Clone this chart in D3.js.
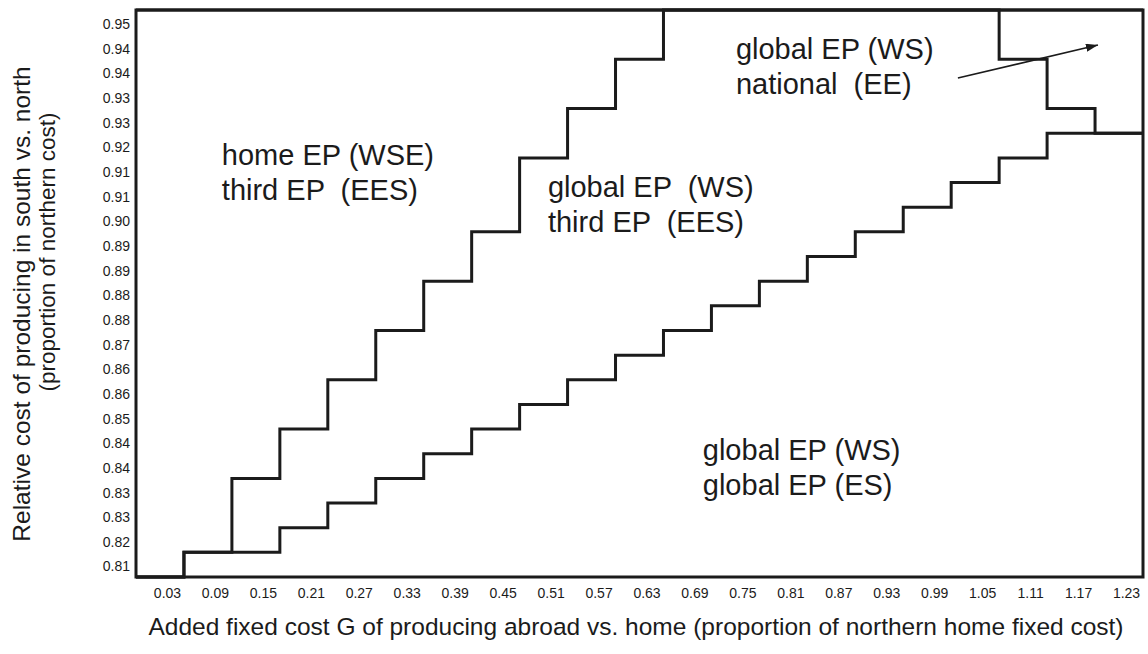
<!DOCTYPE html>
<html>
<head>
<meta charset="utf-8">
<script src="https://cdn.jsdelivr.net/npm/d3@7"></script>
<style>
  html, body { margin: 0; padding: 0; background: #fff; }
  svg { display: block; font-family: "Liberation Sans", Arial, Helvetica, sans-serif; }
  .region { white-space: pre; }
</style>
</head>
<body>
<svg id="chart" width="1148" height="654"></svg>
<script>
// Added fixed cost G of producing abroad (one column per value)
const gLabels = ["0.03","0.09","0.15","0.21","0.27","0.33","0.39","0.45","0.51","0.57",
                 "0.63","0.69","0.75","0.81","0.87","0.93","0.99","1.05","1.11","1.17","1.23"];

// Relative cost of producing in the south, one row per level (bottom to top)
const costLabels = ["0.81","0.82","0.83","0.83","0.84","0.84","0.85","0.86","0.86","0.87",
                    "0.88","0.88","0.89","0.89","0.90","0.91","0.91","0.92","0.93","0.93",
                    "0.94","0.94","0.95"];

// Regime boundaries: for each G column, the number of cost rows lying below the edge
const homeEdge     = [0, 1, 4, 6, 8, 10, 12, 14, 17, 19, 21, 23, 23, 23, 23, 23, 23, 23, 23, 23, 23];
const globalEdge   = [0, 1, 1, 2, 3, 4, 5, 6, 7, 8, 9, 10, 11, 12, 13, 14, 15, 16, 17, 18, 18];
const nationalEdge = [23, 23, 23, 23, 23, 23, 23, 23, 23, 23, 23, 23, 23, 23, 23, 23, 23, 23, 21, 19, 18];

// Regime names written inside each region
const regionText = [
  { lines: ["home EP (WSE)", "third EP  (EES)"],   col: 1.79,  row: 16.71 },
  { lines: ["global EP  (WS)", "third EP  (EES)"], col: 8.59,  row: 15.41 },
  { lines: ["global EP (WS)", "national  (EE)"],   col: 12.51, row: 21.01 },
  { lines: ["global EP (WS)", "global EP (ES)"],   col: 11.82, row: 4.75 }
];

const ink = "#1b1b1b";
const plot = { left: 136, right: 1143, top: 10, bottom: 577 };

const svg = d3.select("#chart");

const x = d3.scaleLinear().domain([0, gLabels.length]).range([plot.left, plot.right]);
const y = d3.scaleLinear().domain([0, costLabels.length]).range([plot.bottom, plot.top]);

// step outline of a boundary across all G columns
const stepLine = d3.line()
  .x(d => x(d[0]))
  .y(d => y(d[1]))
  .curve(d3.curveStepAfter);

function edgePoints(edge) {
  const pts = edge.map((v, i) => [i, v]);
  pts.push([edge.length, edge[edge.length - 1]]);
  return pts;
}

const edges = svg.append("g")
  .attr("fill", "none")
  .attr("stroke", ink)
  .attr("stroke-width", 3)
  .attr("stroke-linejoin", "miter");

[homeEdge, globalEdge, nationalEdge].forEach(edge => {
  edges.append("path").attr("d", stepLine(edgePoints(edge)));
});

// plot frame
svg.append("rect")
  .attr("x", plot.left).attr("y", plot.top)
  .attr("width", plot.right - plot.left).attr("height", plot.bottom - plot.top)
  .attr("fill", "none").attr("stroke", ink).attr("stroke-width", 3);

// axes: labels centred on each row / column
const yAxis = d3.axisLeft(y)
  .tickValues(d3.range(costLabels.length).map(i => i + 0.5))
  .tickFormat(v => costLabels[Math.floor(v)])
  .tickSize(0).tickPadding(6);

const xAxis = d3.axisBottom(x)
  .tickValues(d3.range(gLabels.length).map(i => i + 0.5))
  .tickFormat(v => gLabels[Math.floor(v)])
  .tickSize(0).tickPadding(11);

const gy = svg.append("g").attr("transform", `translate(${plot.left},0)`).call(yAxis);
const gx = svg.append("g").attr("transform", `translate(0,${plot.bottom})`).call(xAxis);

[gx, gy].forEach(g => {
  g.select(".domain").remove();
  g.selectAll("text")
    .attr("fill", ink)
    .style("font-family", '"Liberation Sans", Arial, sans-serif')
    .style("font-size", "14px");
});
gx.selectAll("text").attr("dx", 7);
gy.selectAll("text").attr("dy", "0.45em");

// axis titles
svg.append("text")
  .attr("x", 636).attr("y", 635)
  .attr("text-anchor", "middle")
  .attr("fill", ink)
  .style("font-size", "24.5px")
  .text("Added fixed cost G of producing abroad vs. home (proportion of northern home fixed cost)");

svg.append("text")
  .attr("transform", "translate(30,304) rotate(-90)")
  .attr("text-anchor", "middle")
  .attr("fill", ink)
  .style("font-size", "24.5px")
  .text("Relative cost of producing in south vs. north");

svg.append("text")
  .attr("transform", "translate(55,252) rotate(-90)")
  .attr("text-anchor", "middle")
  .attr("fill", ink)
  .style("font-size", "22.5px")
  .text("(proportion of northern cost)");

// regime labels
regionText.forEach(r => {
  const t = svg.append("text")
    .attr("class", "region")
    .attr("fill", ink)
    .style("font-size", "29px");
  r.lines.forEach((line, i) => {
    t.append("tspan")
      .attr("x", x(r.col))
      .attr("y", y(r.row) + i * 35)
      .text(line);
  });
});

// arrow pointing into the national region
svg.append("defs").append("marker")
  .attr("id", "head")
  .attr("viewBox", "0 0 12 8")
  .attr("refX", 12).attr("refY", 4)
  .attr("markerWidth", 12).attr("markerHeight", 8)
  .attr("markerUnits", "userSpaceOnUse")
  .attr("orient", "auto")
  .append("path")
  .attr("d", "M0,0 L12,4 L0,8 Z")
  .attr("fill", ink);

svg.append("line")
  .attr("x1", x(17.14)).attr("y1", y(20.24))
  .attr("x2", x(20.06)).attr("y2", y(21.58))
  .attr("stroke", ink).attr("stroke-width", 1.6)
  .attr("marker-end", "url(#head)");
</script>
</body>
</html>
